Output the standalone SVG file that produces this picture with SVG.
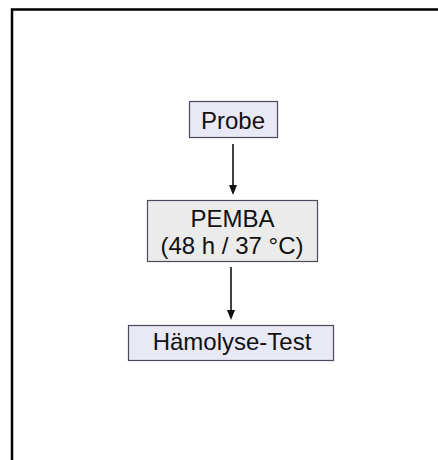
<svg xmlns="http://www.w3.org/2000/svg" width="438" height="460" viewBox="0 0 438 460">
<style>
.box{stroke:#4a4a5a;stroke-width:1.2}
.lav{fill:#e9e8f5}
.gray{fill:#ebebeb}
.t{font-family:"Liberation Sans",Arial,sans-serif;font-size:24px;fill:#111;text-anchor:middle}
.conn{stroke:#111;stroke-width:1.6;fill:none}
.head{fill:#111}
</style>
<rect width="438" height="460" fill="#fff"/>
<path d="M12,460 V9.5 H438" fill="none" stroke="#000" stroke-width="2.5"/>
<g id="connectors">
<line class="conn" x1="233" y1="144" x2="233" y2="186"/>
<path class="head" d="M229,185 L237,185 L233,195 Z"/>
<line class="conn" x1="231" y1="267" x2="231" y2="311"/>
<path class="head" d="M227,310 L235,310 L231,320 Z"/>
</g>
<g id="probe">
<rect class="box lav" x="189.5" y="101.5" width="88" height="36"/>
<text class="t" x="233" y="128.5">Probe</text>
</g>
<g id="pemba">
<rect class="box gray" x="147.5" y="200.5" width="170" height="61"/>
<text class="t" x="232.5" y="227">PEMBA</text>
<text class="t" x="232" y="253.5">(48 h / 37 °C)</text>
</g>
<g id="haemolyse">
<rect class="box lav" x="128.5" y="325.5" width="205" height="35"/>
<text class="t" x="232" y="350">Hämolyse-Test</text>
</g>
</svg>
